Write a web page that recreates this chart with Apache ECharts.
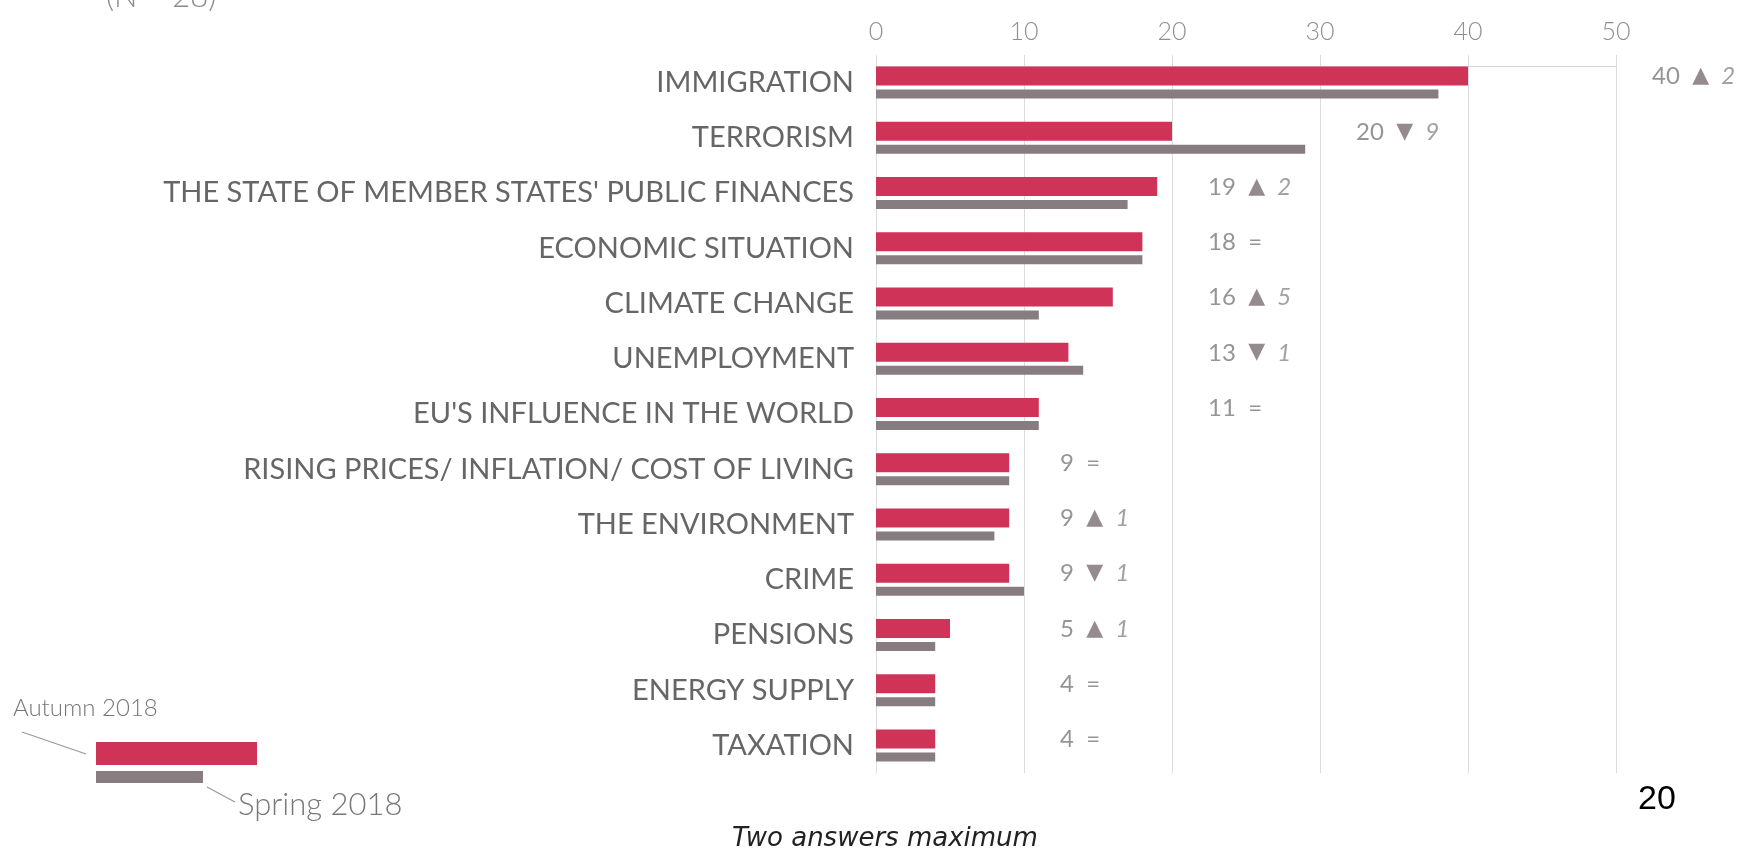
<!DOCTYPE html>
<html>
<head>
<meta charset="utf-8">
<script src="https://cdn.jsdelivr.net/npm/echarts@6/dist/echarts.min.js"></script>
<style>
html,body{margin:0;padding:0;background:#fff;}
#chart{width:1739px;height:853px;}
</style>
</head>
<body>
<div id="chart"></div>
<script>
const categories = [
  "IMMIGRATION",
  "TERRORISM",
  "THE STATE OF MEMBER STATES' PUBLIC FINANCES",
  "ECONOMIC SITUATION",
  "CLIMATE CHANGE",
  "UNEMPLOYMENT",
  "EU'S INFLUENCE IN THE WORLD",
  "RISING PRICES/ INFLATION/ COST OF LIVING",
  "THE ENVIRONMENT",
  "CRIME",
  "PENSIONS",
  "ENERGY SUPPLY",
  "TAXATION"
];
const autumn2018 = [40, 20, 19, 18, 16, 13, 11, 9, 9, 9, 5, 4, 4];
const spring2018 = [38, 29, 17, 18, 11, 14, 11, 9, 8, 10, 4, 4, 4];
const xTicks = [0, 10, 20, 30, 40, 50];

const RED = '#CF3357';
const GREY = '#877C80';
const FONT = 'Lato, "Open Sans", sans-serif';

// annotation sits just past the next gridline after the bar
const annot = autumn2018.map((v, i) => [(Math.floor(v / 10) + 1) * 10 + 2.4, categories[i], v, v - spring2018[i]]);

const chart = echarts.init(document.getElementById('chart'));
chart.setOption({
  animation: false,
  grid: {left: 876, right: 123, top: 55, bottom: 80},
  xAxis: {
    type: 'value', position: 'top', min: xTicks[0], max: xTicks[xTicks.length - 1], interval: 10,
    offset: -11,
    axisLine: {show: true, lineStyle: {color: '#d6d6d6', width: 1}},
    axisTick: {show: false},
    splitLine: {show: true, lineStyle: {color: '#dcdcdc', width: 1}},
    axisLabel: {color: '#8f8f8f', fontSize: 25, fontFamily: FONT, fontWeight: 300, margin: 22}
  },
  yAxis: {
    type: 'category', data: categories, inverse: true,
    axisLine: {show: false}, axisTick: {show: false}, splitLine: {show: false},
    axisLabel: {color: '#666', fontSize: 29, fontFamily: FONT, fontWeight: 400, margin: 22, padding: [0, 0, 8, 0]}
  },
  series: [
    {name: 'Autumn 2018', type: 'bar', data: autumn2018, barWidth: 19, barGap: '21%',
      itemStyle: {color: RED}},
    {name: 'Spring 2018', type: 'bar', data: spring2018, barWidth: 9,
      itemStyle: {color: GREY}},
    {name: 'annot', type: 'scatter', data: annot, symbolSize: 1, clip: false,
      itemStyle: {color: 'rgba(0,0,0,0)'},
      encode: {x: 0, y: 1},
      label: {
        show: true, position: 'right', distance: 0, offset: [0, -6],
        fontFamily: FONT, fontSize: 24, color: '#7a7a7a',
        formatter: p => {
          const v = p.value[2], d = p.value[3];
          let s = v + '  ';
          if (d > 0) s += '{tri|▲}  {chg|' + d + '}';
          else if (d < 0) s += '{tri|▼}  {chg|' + (-d) + '}';
          else s += '{eq|=}';
          return s;
        },
        rich: {
          tri: {color: '#7b6d71', fontSize: 22, fontFamily: 'DejaVu Sans'},
          chg: {color: '#8a8a8a', fontSize: 24, fontStyle: 'italic', fontFamily: FONT},
          eq: {color: '#7a7a7a', fontSize: 24, fontFamily: FONT}
        }
      }}
  ],
  graphic: [
    {type: 'text', left: 106, top: -19, style: {text: '(N = 28)', fill: '#8a8a8a', font: '300 31px ' + FONT}},
    {type: 'text', left: 13, top: 696, style: {text: 'Autumn 2018', fill: '#777', font: '300 24px ' + FONT}},
    {type: 'line', shape: {x1: 22, y1: 732, x2: 86, y2: 754}, style: {stroke: '#999', lineWidth: 1.2}},
    {type: 'rect', shape: {x: 96, y: 742, width: 161, height: 23}, style: {fill: RED}},
    {type: 'rect', shape: {x: 96, y: 771, width: 107, height: 12}, style: {fill: GREY}},
    {type: 'line', shape: {x1: 207, y1: 787, x2: 235, y2: 802}, style: {stroke: '#999', lineWidth: 1.2}},
    {type: 'text', left: 238, top: 789, style: {text: 'Spring 2018', fill: '#777', font: '300 31px ' + FONT}},
    {type: 'text', left: 732, top: 826, style: {text: 'Two answers maximum', fill: '#222', font: 'oblique 26px "DejaVu Sans", sans-serif'}},
    {type: 'text', left: 1638, top: 783, style: {text: '20', fill: '#000', font: '34px "Liberation Sans", Arial, sans-serif'}}
  ]
});
</script>
</body>
</html>
